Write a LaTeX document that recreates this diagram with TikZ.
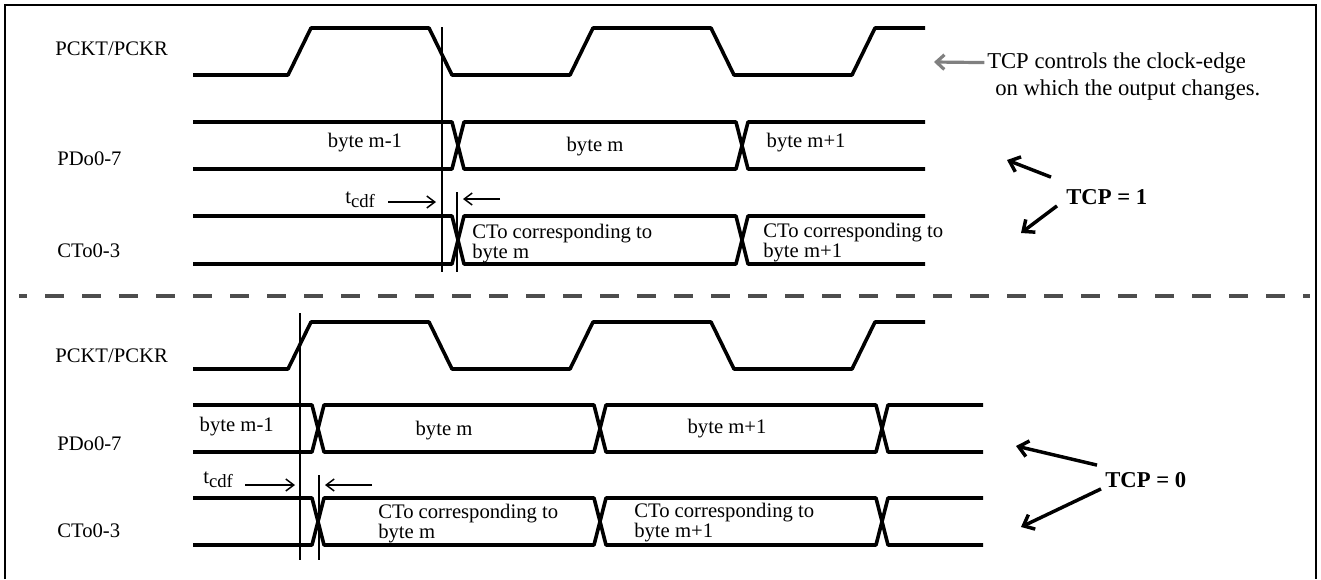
\documentclass[tikz,border=0pt]{standalone}
\usepackage{fontspec}
\setmainfont{Liberation Serif}
\usetikzlibrary{arrows.meta,positioning,calc}
\definecolor{dashgray}{HTML}{4D4D4D}
\definecolor{notegray}{HTML}{808080}
% clock trace: #1 high y, #2 low y
\newcommand{\clock}[2]{%
  \draw[sig] (193,#2) \foreach \r in {288,570} {-- (\r,#2) -- (\r+23,#1) -- (\r+141,#1) -- (\r+164,#2)}
    -- (852,#2) -- (875,#1) -- (925,#1);}
% bus pieces: open start, closed cell between two crossings, open end
\newcommand{\busfirst}[4]{%
  \draw[sig] (#1,#3) -- (#2-6,#3) -- (#2,{(#3+#4)/2}) -- (#2-6,#4) -- (#1,#4);}
\newcommand{\buscell}[4]{%
  \draw[sig] (#1,{(#3+#4)/2}) -- (#1+6,#3) -- (#2-6,#3) -- (#2,{(#3+#4)/2}) -- (#2-6,#4) -- (#1+6,#4) -- cycle;}
\newcommand{\buslast}[4]{%
  \draw[sig] (#2,#3) -- (#1+6,#3) -- (#1,{(#3+#4)/2}) -- (#1+6,#4) -- (#2,#4);}

\begin{document}
\begin{tikzpicture}[x=0.75pt, y=-0.75pt,
  font=\fontsize{15.5}{18}\selectfont,
  sig/.style={line width=2.7pt, line join=round},
  vref/.style={line width=1.2pt},
  lbl/.style={anchor=base west, inner sep=0pt},
  note/.style={anchor=base west, inner sep=0pt, font=\fontsize{17}{20}\selectfont},
  ctx/.style={anchor=north west, inner sep=0pt, align=left, font=\fontsize{15.5}{10.5}\selectfont},
  tcp/.style={anchor=west, inner sep=0pt, font=\fontsize{17}{20}\selectfont\bfseries},
  bigarr/.style={line width=2.6pt, -{Straight Barb[length=7pt,width=12pt]}},
  tarr/.style={line width=1.1pt, -{Straight Barb[length=6pt,width=9pt]}},
  grayarr/.style={notegray, line width=2.4pt, -{Straight Barb[length=6pt,width=11pt]}},
  splitline/.style={dashgray, line width=3pt, dash pattern=on 14.25pt off 13.5pt, dash phase=8.25pt},
  boxframe/.style={line width=1.8pt},
]
\useasboundingbox (0,0) rectangle (1321,579);
\draw[boxframe] (5,579) |- (1316,5) -- (1316,579);

% ===== TCP = 1 =====
\node[lbl] (ckA) at (55,55) {PCKT/PCKR};
\node[lbl] (pdA) at (57,165) {PDo0-7};
\node[lbl] (ctA) at (57,257) {CTo0-3};
\clock{28}{75}
\busfirst{193}{458}{122}{169} \buscell{458}{742}{122}{169} \buslast{742}{925}{122}{169}
\busfirst{193}{458}{216}{264} \buscell{458}{742}{216}{264} \buslast{742}{925}{216}{264}
\draw[vref] (442,27) -- (442,272);
\draw[vref] (457,192) -- (457,272);
\node[anchor=base] (bA1) at (365,147) {byte m-1};
\node[anchor=base] (bA2) at (595,151) {byte m};
\node[anchor=base west] (bA3) at (762,147) {byte m+1};
\node[ctx] (cA1) at (472,224) {CTo corresponding to\\byte m};
\node[ctx] (cA2) at (763,223) {CTo corresponding to\\byte m+1};
\node[lbl] (tA) at (345,203) {t\raisebox{-3pt}{\fontsize{14}{14}\selectfont cdf}};
\coordinate (tAh) at (436,202);
\coordinate (tAt) at (500,199);
\coordinate (tAl) at (463,199);
\draw[tarr] ([shift={(13,-1)}]tA.base east) -- (tAh);
\draw[tarr] (tAt) -- (tAl);

% note on the clock edge
\node[note] (noteA) at (987,68) {TCP controls the clock-edge};
\node[note] (noteB) at (995,95) {on which the output changes.};
\coordinate (noteTip) at (934,62);
\draw[grayarr] ([xshift=-2]noteA.west) -- (noteTip);

\node[tcp] (tcpA) at (1066,197) {TCP = 1};
\coordinate (tcpAu) at (1007,160);
\coordinate (tcpAd) at (1021,233);
\draw[bigarr] ([shift={(-15,-12)}]tcpA.north west) -- (tcpAu);
\draw[bigarr] ([shift={(-9,1)}]tcpA.south west) -- (tcpAd);

% ===== separator =====
\draw[splitline] (19,296) -- (1310,296);

% ===== TCP = 0 =====
\node[lbl] (ckB) at (55,362) {PCKT/PCKR};
\node[lbl] (pdB) at (57,450) {PDo0-7};
\node[lbl] (ctB) at (57,537) {CTo0-3};
\clock{322}{369}
\busfirst{193}{318}{405}{452} \buscell{318}{600}{405}{452} \buscell{600}{882}{405}{452} \buslast{882}{983}{405}{452}
\busfirst{193}{318}{498}{545} \buscell{318}{600}{498}{545} \buscell{600}{882}{498}{545} \buslast{882}{983}{498}{545}
\draw[vref] (300,313) -- (300,560);
\draw[vref] (319,475) -- (319,560);
\node[anchor=base west] (bB1) at (195,431) {byte m-1};
\node[anchor=base] (bB2) at (444,435) {byte m};
\node[anchor=base] (bB3) at (727,433) {byte m+1};
\node[ctx] (cB1) at (378,504) {CTo corresponding to\\byte m};
\node[ctx] (cB2) at (634,503) {CTo corresponding to\\byte m+1};
\node[lbl] (tB) at (203,483) {t\raisebox{-3pt}{\fontsize{14}{14}\selectfont cdf}};
\coordinate (tBh) at (295,485);
\coordinate (tBt) at (372,485);
\coordinate (tBl) at (325,485);
\draw[tarr] ([shift={(12,2)}]tB.base east) -- (tBh);
\draw[tarr] (tBt) -- (tBl);

\node[tcp] (tcpB) at (1105,480) {TCP = 0};
\coordinate (tcpBu) at (1016,446);
\coordinate (tcpBd) at (1021,527);
\draw[bigarr] ([shift={(-8,-7)}]tcpB.north west) -- (tcpBu);
\draw[bigarr] ([shift={(-4,1)}]tcpB.south west) -- (tcpBd);
\end{tikzpicture}
\end{document}
